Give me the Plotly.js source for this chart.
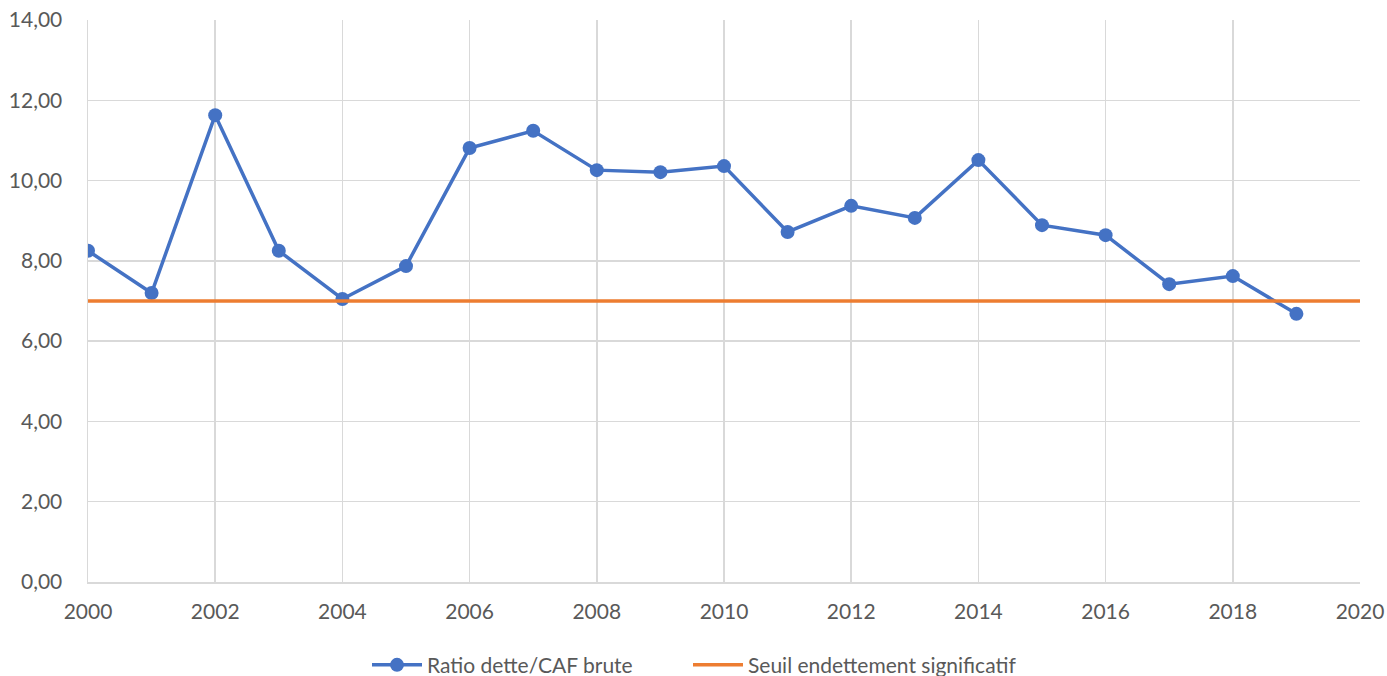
<!DOCTYPE html>
<html>
<head>
<meta charset="utf-8">
<script src="https://cdn.plot.ly/plotly-3.0.1.min.js"></script>
<style>html,body{margin:0;padding:0;background:#fff;}#chart{width:1387px;height:676px;}</style>
</head>
<body>
<div id="chart"></div>
<script>
const years = [2000,2001,2002,2003,2004,2005,2006,2007,2008,2009,2010,2011,2012,2013,2014,2015,2016,2017,2018,2019];
const ratio = [8.25,7.20,11.63,8.25,7.05,7.87,10.81,11.24,10.26,10.21,10.36,8.72,9.37,9.07,10.51,8.89,8.64,7.42,7.62,6.68];
const seuilYears = [2000,2020];
const seuil = [7,7];
const seriesNames = ["Ratio dette/CAF brute","Seuil endettement significatif"];

const font = {family: "Lato, 'Open Sans', sans-serif", size: 21, color: "#595959"};

const traces = [
  {x: years, y: ratio, name: seriesNames[0], type: "scatter", mode: "lines+markers",
   line: {color: "#4472C4", width: 3.5}, marker: {color: "#4472C4", size: 14}, legend: "legend"},
  {x: seuilYears, y: seuil, name: seriesNames[1], type: "scatter", mode: "lines",
   line: {color: "#ED7D31", width: 3.5}, legend: "legend2"}
];

const legendBase = {orientation: "h", xanchor: "left", xref: "container", y: 0.016, yanchor: "middle", yref: "container",
  font: font, itemwidth: 50};

const layout = {
  width: 1387, height: 676,
  margin: {l: 88, r: 27, t: 20, b: 94, autoexpand: false},
  paper_bgcolor: "#fff", plot_bgcolor: "#fff",
  separators: ", ",
  font: font,
  showlegend: true,
  legend: Object.assign({}, legendBase, {x: 367 / 1387}),
  legend2: Object.assign({}, legendBase, {x: 688 / 1387}),
  xaxis: {range: [2000, 2020], dtick: 2, tick0: 2000, showgrid: true, gridcolor: "#d9d9d9", gridwidth: 1.5,
    zeroline: false, showline: true, linecolor: "#d9d9d9", linewidth: 1.5, ticks: "", ticklen: 0,
    ticklabelstandoff: 10, tickfont: font, fixedrange: true},
  yaxis: {range: [0, 14], dtick: 2, tick0: 0, showgrid: true, gridcolor: "#d9d9d9", gridwidth: 1.5,
    zeroline: false, showline: true, linecolor: "#d9d9d9", linewidth: 1.5, ticks: "",
    ticklabelstandoff: 20, tickformat: ".2f", tickfont: font, fixedrange: true}
};

Plotly.newPlot("chart", traces, layout, {displayModeBar: false, staticPlot: true});
</script>
</body>
</html>
